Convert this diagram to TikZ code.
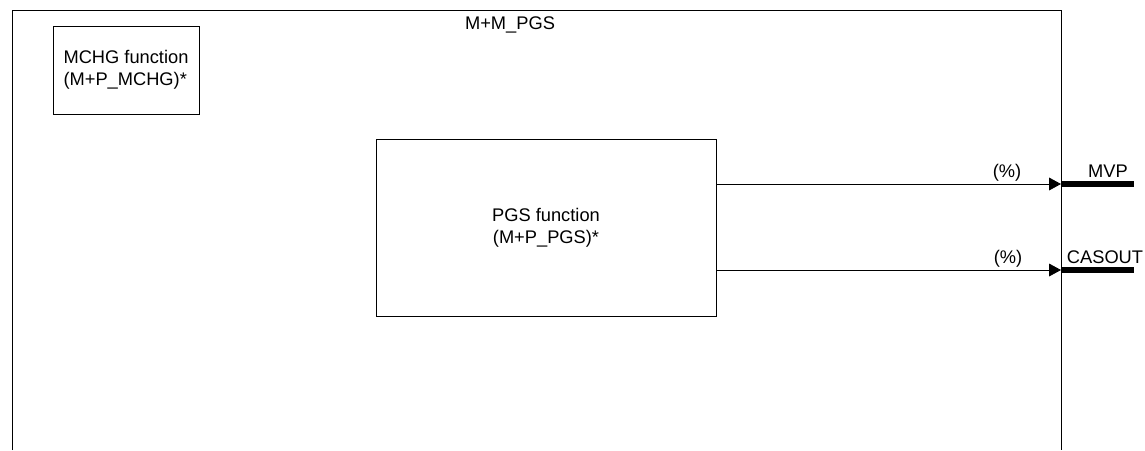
\documentclass[tikz,border=0pt]{standalone}
\usepackage{fontspec}
\setmainfont{Liberation Sans}
\usepackage{tikz}
\usetikzlibrary{arrows.meta, positioning, calc}
\tikzset{
    % Function blocks
    fbox/.style={rectangle, draw=black, line width=0.6pt, fill=white,
                align=left, inner sep=0pt, font=\fontsize{13}{15.5}\selectfont},
    % Output pins
    outarrow/.style={-{Triangle[length=3mm, width=3.2mm]}, line width=0.6pt},
    outbar/.style={line width=4.4pt},
    plbl/.style={font=\fontsize{13}{15}\selectfont, inner sep=0pt, anchor=base},
}
\begin{document}
\begin{tikzpicture}[x=0.025cm, y=-0.025cm]
\useasboundingbox (0,0) rectangle (1145,450);

% Frame (open at the bottom)
\draw[line width=0.6pt] (12,450) -- (12,10) -- (1061,10) -- (1061,450);
\node[plbl] (title) at (510,29) {M+M\_PGS};

% MCHG block
\node[fbox, minimum width=3.65cm, minimum height=2.2cm] (mchg) at (126,70)
    {MCHG function\\(M+P\_MCHG)*};

% PGS block
\node[fbox, align=center, minimum width=8.5cm, minimum height=4.425cm] (pgs) at (546,227.5)
    {PGS function\\(M+P\_PGS)*};

% Pins
\coordinate (mvp) at (1061,184);
\coordinate (casout) at (1061,270);
\coordinate (mvpend) at (1134,184);
\coordinate (casoutend) at (1134,270);

% Arrows
\draw[outarrow] (pgs.east |- mvp) -- (mvp);
\draw[outarrow] (pgs.east |- casout) -- (casout);
\draw[outbar] (mvp) -- (mvpend);
\draw[outbar] (casout) -- (casoutend);

% Labels
\node[plbl] (mvppct) at (1007,177) {(\%)};
\node[plbl] (caspct) at (1008,263) {(\%)};
\node[plbl] (mvplbl) at (1108,177) {MVP};
\node[plbl] (caslbl) at (1105,263) {CASOUT};

\end{tikzpicture}
\end{document}
